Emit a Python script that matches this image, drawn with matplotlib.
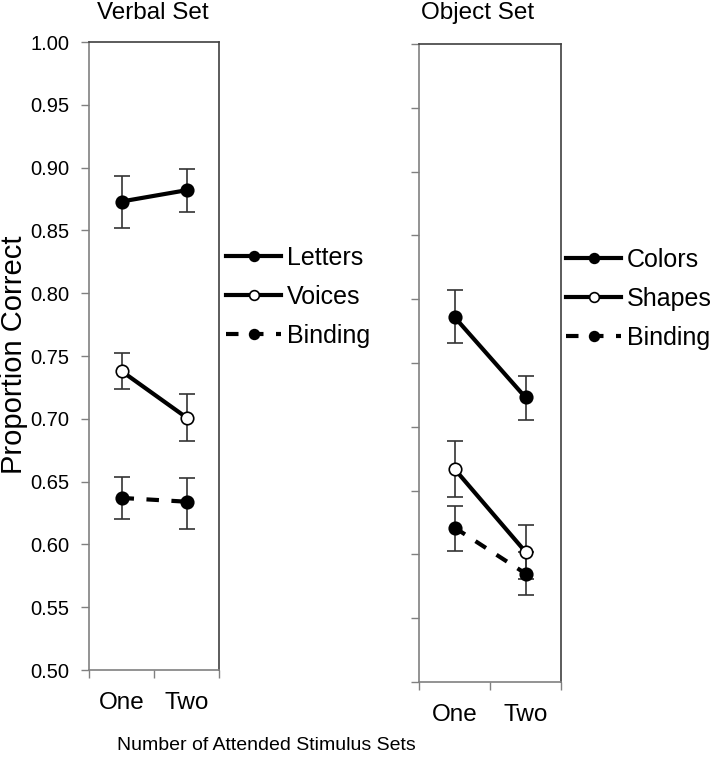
import matplotlib
matplotlib.use("Agg")
import matplotlib.pyplot as plt
from matplotlib.lines import Line2D

plt.rcParams['font.family'] = ['Liberation Sans', 'DejaVu Sans']

# data
groups = ["One", "Two"]

verbal_names = ["Letters", "Voices", "Binding"]
verbal_mean = [[0.873, 0.882], [0.738, 0.701], [0.637, 0.634]]
verbal_low = [[0.852, 0.865], [0.724, 0.682], [0.620, 0.612]]
verbal_high = [[0.893, 0.899], [0.752, 0.720], [0.654, 0.653]]

object_names = ["Colors", "Shapes", "Binding"]
object_mean = [[0.786, 0.723], [0.667, 0.602], [0.621, 0.585]]
object_low = [[0.766, 0.705], [0.645, 0.581], [0.603, 0.568]]
object_high = [[0.807, 0.740], [0.689, 0.623], [0.638, 0.602]]

yticks = [0.50, 0.55, 0.60, 0.65, 0.70, 0.75, 0.80, 0.85, 0.90, 0.95, 1.00]

# styles per series: filled / open / dashed filled
face = ['black', 'white', 'black']
lstyle = ['-', '-', (0, (3, 3))]

W, H = 712, 760
fig = plt.figure(figsize=(W / 100, H / 100), dpi=100)

ax1 = fig.add_axes([89 / W, 1 - 670 / H, 130 / W, 628 / H])
ax2 = fig.add_axes([419 / W, 1 - 682 / H, 142 / W, 638 / H])


def draw(ax, names, mean, low, high, show_labels):
    xs = [0.5, 1.5]
    handles = []
    for i in range(3):
        err = [[m - l for m, l in zip(mean[i], low[i])],
               [h - m for m, h in zip(mean[i], high[i])]]
        ax.errorbar(xs, mean[i], yerr=err, fmt='none', ecolor='#333333',
                    elinewidth=1.2, capsize=6, capthick=1.2, zorder=2)
        ax.plot(xs, mean[i], color='black', lw=3, ls=lstyle[i], marker='o',
                ms=9, mfc=face[i], mec='black', mew=1.2, zorder=3)
        handles.append(Line2D([], [], color='black', lw=3, ls=lstyle[i],
                              marker='o', ms=7, mfc=face[i], mec='black',
                              mew=1.2))
    ax.set_xlim(0, 2)
    ax.set_ylim(0.5, 1.0)
    ax.set_yticks(yticks)
    if show_labels:
        ax.set_yticklabels(['%.2f' % v for v in yticks], fontsize=14.5)
    else:
        ax.set_yticklabels([])
    ax.set_xticks([0, 1, 2])
    ax.set_xticklabels([])
    ax.set_xticks([0.5, 1.5], minor=True)
    ax.set_xticklabels(groups, minor=True, fontsize=17.5)
    ax.tick_params(axis='x', which='minor', length=0, pad=16)
    ax.tick_params(axis='both', which='major', length=6, color='#808080',
                   width=1, pad=8)
    for s in ['left', 'bottom']:
        ax.spines[s].set_color('#808080')
    for s in ['top', 'right']:
        ax.spines[s].set_color('#404040')
    for s in ax.spines.values():
        s.set_linewidth(1.2)
    return handles


h1 = draw(ax1, verbal_names, verbal_mean, verbal_low, verbal_high, True)
h2 = draw(ax2, object_names, object_mean, object_low, object_high, False)

leg_kw = dict(loc='center left', frameon=False, fontsize=18, handlelength=2.2,
              handletextpad=0.25, labelspacing=0.6, borderpad=0,
              borderaxespad=0)
fig.legend(h1, verbal_names, bbox_to_anchor=(226 / W, 1 - 297 / H), **leg_kw)
fig.legend(h2, object_names, bbox_to_anchor=(566 / W, 1 - 299 / H), **leg_kw)

fig.text(153 / W, 1 - 13 / H, "Verbal Set", fontsize=17.5, ha='center', va='center')
fig.text(478 / W, 1 - 13 / H, "Object Set", fontsize=17.5, ha='center', va='center')
fig.text(14 / W, 1 - 355 / H, "Proportion Correct", fontsize=21,
         rotation=90, ha='center', va='center')
fig.text(266 / W, 1 - 745 / H, "Number of Attended Stimulus Sets",
         fontsize=14, ha='center', va='center')

fig.savefig("out.png", dpi=100)
